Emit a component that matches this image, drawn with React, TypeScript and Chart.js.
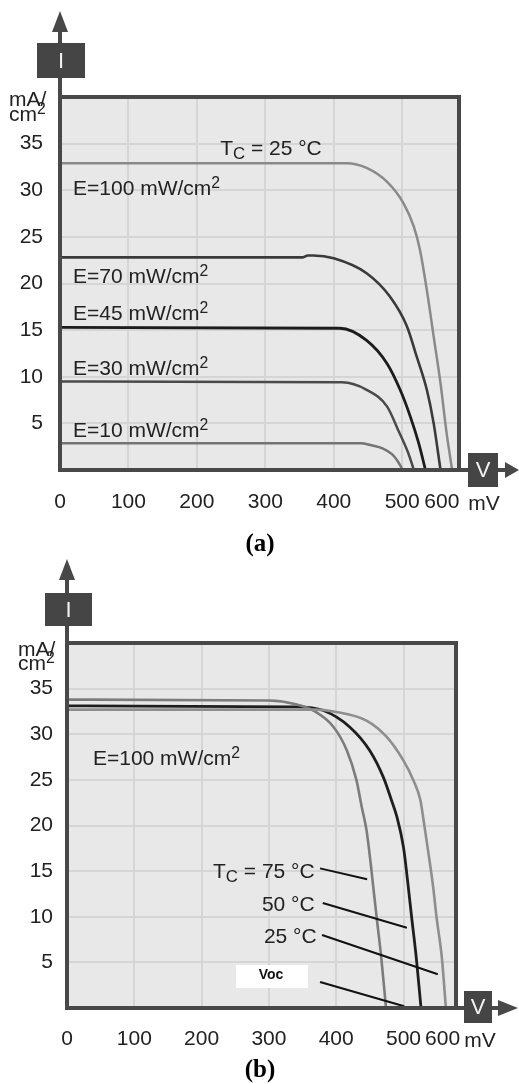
import React, { useEffect, useRef } from 'react';
import { Chart, registerables } from 'chart.js';
Chart.register(...registerables);

// ---------- shared axis data ----------
const xTickValues = [0, 100, 200, 300, 400, 500, 558];
const xTickLabels = ['0', '100', '200', '300', '400', '500', '600'];
const xGridValues = [100, 200, 300, 400, 500];
const yTickValues = [5, 10, 15, 20, 25, 30, 35];

// ---------- panel (a): irradiance series (mV, mA/cm2) ----------
const e100V = [0, 419, 448, 478, 502, 517, 526, 536, 546, 556, 565, 573];
const e100I = [32.9, 32.9, 32.4, 30.9, 28.6, 26.1, 23.6, 19.3, 14.3, 9.3, 3.9, 0];
const e70V = [0, 355, 362, 370, 400, 448, 482, 507, 521, 536, 546, 556];
const e70I = [22.8, 22.8, 23.0, 23.0, 22.7, 21.1, 18.6, 15.4, 12.2, 8.6, 5.0, 0];
const e45V = [0, 409, 448, 478, 497, 512, 524, 534];
const e45I = [15.3, 15.2, 13.9, 11.4, 8.6, 5.7, 2.9, 0];
const e30V = [0, 412, 448, 478, 494, 509, 517];
const e30I = [9.5, 9.4, 8.6, 6.8, 4.3, 1.8, 0];
const e10V = [0, 439, 455, 472, 485, 493, 501];
const e10I = [2.86, 2.86, 2.65, 2.3, 1.7, 1.0, 0];

// ---------- panel (b): temperature series ----------
const t75V = [0, 300, 340, 366, 396, 416, 430, 438, 445, 451, 455, 460, 467, 474];
const t75I = [33.8, 33.7, 33.3, 32.6, 30.8, 28.2, 25.0, 22.0, 19.5, 16.0, 13.3, 10.0, 5.5, 0];
const t50V = [0, 340, 381, 420, 450, 470, 482, 490, 500, 506, 512, 519, 526];
const t50I = [33.1, 33.0, 32.6, 30.8, 28.2, 25.3, 22.8, 21.0, 17.6, 14.0, 10.0, 5.5, 0];
const t25V = [0, 370, 396, 445, 475, 500, 515, 525, 531, 537, 544, 549, 557, 563];
const t25I = [32.7, 32.7, 32.5, 31.5, 29.7, 27.1, 24.9, 22.8, 20.0, 17.0, 13.3, 10.0, 5.5, 0];

const FONT = '"Liberation Sans", Arial, Helvetica, sans-serif';
const SERIF = '"Liberation Serif", "Times New Roman", serif';
const TXT = '#222';
const AXIS = '#484848';

type Part = { t: string; s?: 'sup' | 'sub' };

function drawRich(ctx: CanvasRenderingContext2D, parts: Part[], x: number, y: number, size: number, align = 'left') {
  const sz = (p: Part) => (p.s === 'sup' ? size * 0.75 : p.s === 'sub' ? size * 0.8 : size);
  const widths = parts.map((p) => {
    ctx.font = `${sz(p)}px ${FONT}`;
    return ctx.measureText(p.t).width;
  });
  const total = widths.reduce((a, b) => a + b, 0);
  let cx = align === 'right' ? x - total : align === 'center' ? x - total / 2 : x;
  const base = y + size * 0.358;
  ctx.fillStyle = TXT;
  ctx.textAlign = 'left';
  ctx.textBaseline = 'alphabetic';
  parts.forEach((p, i) => {
    ctx.font = `${sz(p)}px ${FONT}`;
    let by = base;
    if (p.s === 'sup') by = base - size * 0.33;
    if (p.s === 'sub') by = base + size * 0.2;
    ctx.fillText(p.t, cx, by);
    cx += widths[i];
  });
}

function series(v: number[], i: number[]) {
  return v.map((x, k) => ({ x, y: i[k] }));
}

type Decor = {
  arrowTip: number; arrowBase: number;
  iBox: [number, number, number, number];
  vBox: [number, number, number, number];
  vArrowStart: number; vArrowEnd: number; vHalf: number;
  mV: [number, number];
  unitX: number; unitY: [number, number];
  caption: string; capPos: [number, number];
  labels: { parts: Part[]; x: number; y: number; align?: string }[];
  leaders?: number[][];
  voc?: { box: [number, number, number, number]; cx: number; cy: number };
};

function makeDecor(d: Decor) {
  return {
    id: 'decor',
    beforeDraw(chart: any) {
      const { ctx, chartArea: a } = chart;
      ctx.save();
      ctx.fillStyle = '#e8e8e8';
      ctx.fillRect(a.left, a.top, a.right - a.left, a.bottom - a.top);
      ctx.restore();
    },
    afterDraw(chart: any) {
      const { ctx, chartArea: a, scales } = chart;
      const sx = scales.x, sy = scales.y;
      ctx.save();
      if (d.leaders) {
        ctx.strokeStyle = '#111';
        ctx.lineWidth = 2;
        d.leaders.forEach(([x1, y1, x2, y2]) => {
          ctx.beginPath();
          ctx.moveTo(sx.getPixelForValue(x1), sy.getPixelForValue(y1));
          ctx.lineTo(sx.getPixelForValue(x2), sy.getPixelForValue(y2));
          ctx.stroke();
        });
      }
      if (d.voc) {
        const [x1, y1, x2, y2] = d.voc.box;
        ctx.fillStyle = '#ffffff';
        ctx.fillRect(x1, y1, x2 - x1, y2 - y1);
        ctx.fillStyle = '#111';
        ctx.font = `bold 14px ${FONT}`;
        ctx.textAlign = 'center';
        ctx.textBaseline = 'middle';
        ctx.fillText('Voc', d.voc.cx, d.voc.cy);
      }
      ctx.strokeStyle = AXIS;
      ctx.lineWidth = 4;
      ctx.lineCap = 'butt';
      ctx.beginPath();
      ctx.moveTo(a.left, a.top);
      ctx.lineTo(a.right + 2, a.top);
      ctx.moveTo(a.right, a.top);
      ctx.lineTo(a.right, a.bottom);
      ctx.moveTo(a.left, d.arrowBase);
      ctx.lineTo(a.left, a.bottom + 2);
      ctx.moveTo(a.left - 2, a.bottom);
      ctx.lineTo(d.vArrowStart + 1, a.bottom);
      ctx.stroke();
      ctx.fillStyle = AXIS;
      ctx.beginPath();
      ctx.moveTo(a.left, d.arrowTip);
      ctx.lineTo(a.left - 8, d.arrowBase);
      ctx.lineTo(a.left + 8, d.arrowBase);
      ctx.closePath();
      ctx.fill();
      ctx.beginPath();
      ctx.moveTo(d.vArrowEnd, a.bottom);
      ctx.lineTo(d.vArrowStart, a.bottom - d.vHalf);
      ctx.lineTo(d.vArrowStart, a.bottom + d.vHalf);
      ctx.closePath();
      ctx.fill();
      ctx.fillStyle = '#454545';
      const [ix1, iy1, ix2, iy2] = d.iBox;
      ctx.fillRect(ix1, iy1, ix2 - ix1, iy2 - iy1);
      const [vx1, vy1, vx2, vy2] = d.vBox;
      ctx.fillRect(vx1, vy1, vx2 - vx1, vy2 - vy1);
      ctx.fillStyle = '#f2f2f2';
      ctx.font = `22px ${FONT}`;
      ctx.textAlign = 'center';
      ctx.textBaseline = 'middle';
      ctx.fillText('I', (ix1 + ix2) / 2, (iy1 + iy2) / 2 + 1);
      ctx.fillText('V', (vx1 + vx2) / 2, (vy1 + vy2) / 2 + 1);
      drawRich(ctx, [{ t: 'mA/' }], d.unitX, d.unitY[0], 21);
      drawRich(ctx, [{ t: 'cm' }, { t: '2', s: 'sup' }], d.unitX, d.unitY[1], 21);
      drawRich(ctx, [{ t: 'mV' }], d.mV[0], d.mV[1], 21, 'center');
      d.labels.forEach((l) => {
        drawRich(ctx, l.parts, sx.getPixelForValue(l.x), sy.getPixelForValue(l.y), 21, l.align || 'left');
      });
      ctx.fillStyle = '#000';
      ctx.font = `bold 25px ${SERIF}`;
      ctx.textAlign = 'center';
      ctx.textBaseline = 'middle';
      ctx.fillText(d.caption, d.capPos[0], d.capPos[1]);
      ctx.restore();
    },
  };
}

type Panel = {
  width: number; height: number;
  left: number; top: number; right: number; bottom: number;
  xMax: number; yPad: number; xPad: number;
  datasets: { data: { x: number; y: number }[]; color: string; width: number }[];
  decor: Decor;
};

function buildConfig(p: Panel): any {
  return {
    type: 'line',
    data: {
      datasets: p.datasets.map((d) => ({
        data: d.data,
        borderColor: d.color,
        borderWidth: d.width,
        pointRadius: 0,
        fill: false,
        cubicInterpolationMode: 'monotone',
      })),
    },
    options: {
      responsive: false,
      animation: false,
      events: [],
      layout: { padding: { left: 0, top: p.top, right: p.width - p.right, bottom: 0 } },
      plugins: { legend: { display: false }, tooltip: { enabled: false } },
      scales: {
        x: {
          type: 'linear',
          min: 0,
          max: p.xMax,
          afterBuildTicks: (scale: any) => {
            scale.ticks = xTickValues.map((value) => ({ value }));
          },
          afterFit: (scale: any) => {
            scale.height = p.height - p.bottom;
          },
          ticks: {
            autoSkip: false,
            maxRotation: 0,
            padding: p.xPad,
            color: TXT,
            font: { family: FONT, size: 21 },
            callback: (_v: any, i: number) => xTickLabels[i],
          },
          grid: {
            drawTicks: false,
            lineWidth: 2,
            color: (c: any) => (c.tick && xGridValues.includes(c.tick.value) ? '#d5d5d5' : 'rgba(0,0,0,0)'),
          },
          border: { display: false },
        },
        y: {
          type: 'linear',
          min: 0,
          max: 40,
          afterBuildTicks: (scale: any) => {
            scale.ticks = [0, ...yTickValues, 40].map((value) => ({ value }));
          },
          afterFit: (scale: any) => {
            scale.width = p.left;
          },
          ticks: {
            padding: p.yPad,
            color: TXT,
            font: { family: FONT, size: 21 },
            callback: (v: any) => (yTickValues.includes(v) ? String(v) : ''),
          },
          grid: {
            drawTicks: false,
            lineWidth: 2,
            color: (c: any) => (c.tick && yTickValues.includes(c.tick.value) ? '#d5d5d5' : 'rgba(0,0,0,0)'),
          },
          border: { display: false },
        },
      },
    },
    plugins: [makeDecor(p.decor)],
  };
}

const sup2: Part = { t: '2', s: 'sup' };

const A_H = 557;
const B_OFF = 557;
const B_H = 1084 - B_OFF;
const b = (y: number) => y - B_OFF;

const panelA: Panel = {
  width: 519, height: A_H,
  left: 60, top: 97, right: 459, bottom: 470,
  xMax: 583, yPad: 17, xPad: 20,
  datasets: [
    { data: series(e10V, e10I), color: '#747474', width: 2.5 },
    { data: series(e30V, e30I), color: '#4a4a4a', width: 2.5 },
    { data: series(e45V, e45I), color: '#1c1c1c', width: 2.8 },
    { data: series(e70V, e70I), color: '#3a3a3a', width: 2.6 },
    { data: series(e100V, e100I), color: '#8a8a8a', width: 2.5 },
  ],
  decor: {
    arrowTip: 11, arrowBase: 32,
    iBox: [37, 43, 85, 78],
    vBox: [468, 453, 498, 487],
    vArrowStart: 505, vArrowEnd: 519, vHalf: 8,
    mV: [484, 502],
    unitX: 9, unitY: [98, 113],
    caption: '(a)', capPos: [260, 545],
    labels: [
      { parts: [{ t: 'T' }, { t: 'C', s: 'sub' }, { t: ' = 25 °C' }], x: 234, y: 34.6 },
      { parts: [{ t: 'E=100 mW/cm' }, sup2], x: 19, y: 30.35 },
      { parts: [{ t: 'E=70 mW/cm' }, sup2], x: 19, y: 20.9 },
      { parts: [{ t: 'E=45 mW/cm' }, sup2], x: 19, y: 16.9 },
      { parts: [{ t: 'E=30 mW/cm' }, sup2], x: 19, y: 11.0 },
      { parts: [{ t: 'E=10 mW/cm' }, sup2], x: 19, y: 4.3 },
    ],
  },
};

const panelB: Panel = {
  width: 519, height: B_H,
  left: 67, top: b(643), right: 456, bottom: b(1008),
  xMax: 578, yPad: 14, xPad: 19,
  datasets: [
    { data: series(t25V, t25I), color: '#8e8e8e', width: 2.6 },
    { data: series(t75V, t75I), color: '#7c7c7c', width: 2.6 },
    { data: series(t50V, t50I), color: '#1e1e1e', width: 2.8 },
  ],
  decor: {
    arrowTip: b(559), arrowBase: b(580),
    iBox: [45, b(593), 92, b(626)],
    vBox: [464, b(991), 492, b(1023)],
    vArrowStart: 498, vArrowEnd: 518, vHalf: 8,
    mV: [480, b(1039)],
    unitX: 18, unitY: [b(648), b(662)],
    caption: '(b)', capPos: [260, b(1071)],
    labels: [
      { parts: [{ t: 'E=100 mW/cm' }, sup2], x: 38.6, y: 27.5 },
      { parts: [{ t: 'T' }, { t: 'C', s: 'sub' }, { t: ' = 75 °C' }], x: 368, y: 15.1, align: 'right' },
      { parts: [{ t: '50 °C' }], x: 368, y: 11.5, align: 'right' },
      { parts: [{ t: '25 °C' }], x: 371, y: 8.0, align: 'right' },
    ],
    leaders: [
      [376, 15.3, 446, 14.1],
      [380, 11.5, 505, 8.8],
      [379, 8.0, 551, 3.7],
      [376, 2.85, 501, 0.2],
    ],
    voc: { box: [236, b(965), 308, b(988)], cx: 271, cy: b(975) },
  },
};

function PanelCanvas({ panel, top }: { panel: Panel; top: number }) {
  const ref = useRef<HTMLCanvasElement>(null);
  useEffect(() => {
    if (!ref.current) return;
    const chart = new Chart(ref.current, buildConfig(panel));
    return () => chart.destroy();
  }, [panel]);
  return (
    <canvas
      ref={ref}
      width={panel.width}
      height={panel.height}
      style={{ position: 'absolute', left: 0, top, width: panel.width, height: panel.height }}
    />
  );
}

export default function App() {
  return (
    <div style={{ position: 'absolute', left: 0, top: 0, width: 519, height: 1084, background: '#ffffff' }}>
      <PanelCanvas panel={panelA} top={0} />
      <PanelCanvas panel={panelB} top={B_OFF} />
    </div>
  );
}
